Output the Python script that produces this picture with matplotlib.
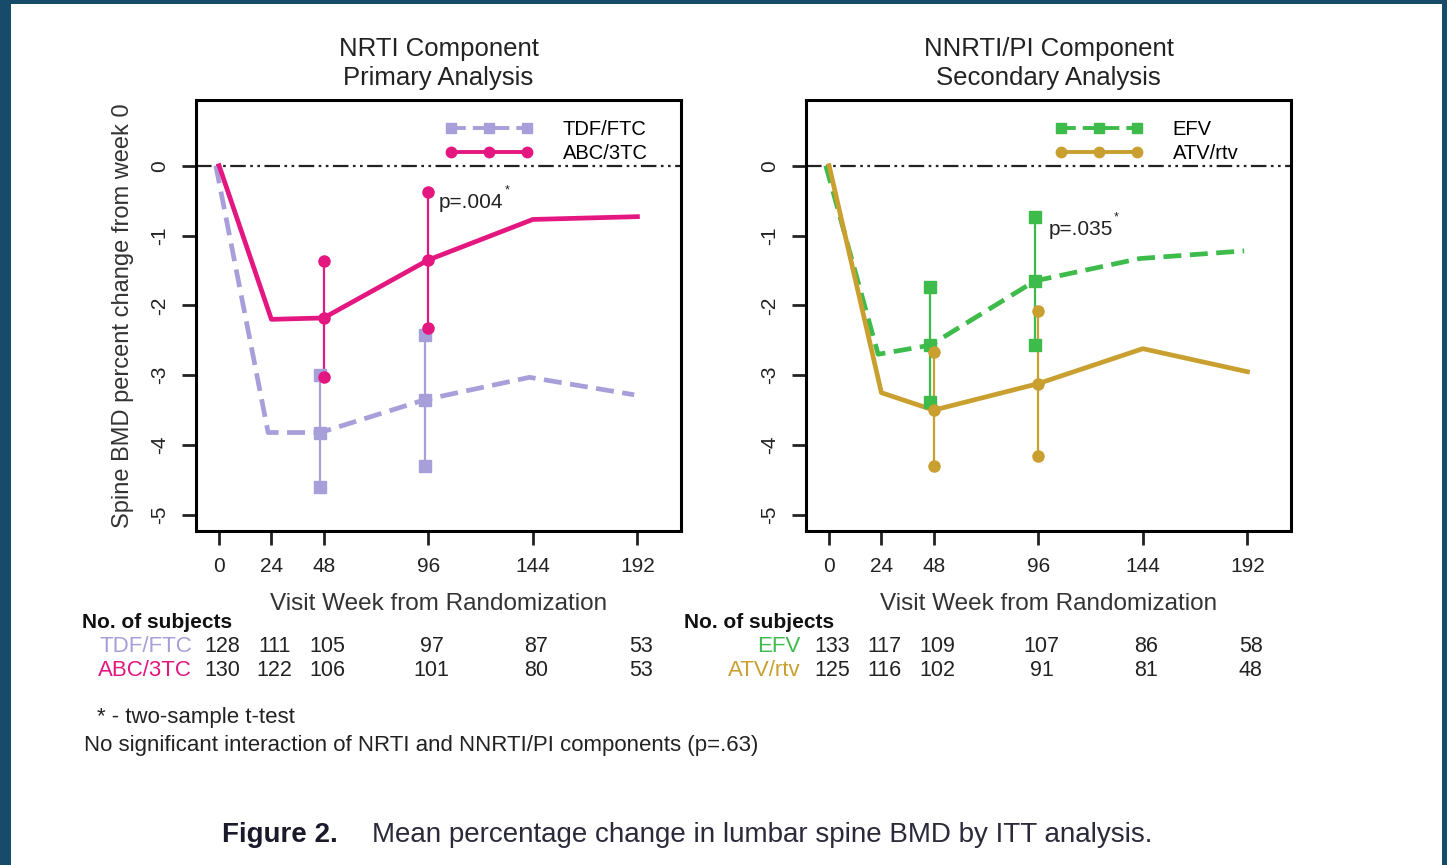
import matplotlib.pyplot as plt
import matplotlib.transforms as mtransforms
from matplotlib.patches import Rectangle
from matplotlib.lines import Line2D

plt.rcParams['font.family'] = ['Liberation Sans', 'DejaVu Sans']

# data
weeks = [0, 24, 48, 96, 144, 192]
ci_weeks = [48, 96]

tdf_mean = [0, -3.82, -3.82, -3.35, -3.03, -3.28]
abc_mean = [0, -2.20, -2.18, -1.35, -0.77, -0.73]
efv_mean = [0, -2.70, -2.57, -1.65, -1.33, -1.22]
atv_mean = [0, -3.25, -3.50, -3.12, -2.62, -2.95]

tdf_lo = [-4.60, -4.30]
tdf_hi = [-3.00, -2.42]
abc_lo = [-3.02, -2.32]
abc_hi = [-1.37, -0.37]
efv_lo = [-3.38, -2.57]
efv_hi = [-1.73, -0.74]
atv_lo = [-4.30, -4.15]
atv_hi = [-2.67, -2.08]

tdf_n = [128, 111, 105, 97, 87, 53]
abc_n = [130, 122, 106, 101, 80, 53]
efv_n = [133, 117, 109, 107, 86, 58]
atv_n = [125, 116, 102, 91, 81, 48]

W, H = 1447, 865
fig = plt.figure(figsize=(W / 100, H / 100), dpi=100)
fig.patch.set_facecolor('#164b69')
fig.add_artist(Rectangle((11 / W, 0), (1442 - 11) / W, 1 - 4 / H,
                         transform=fig.transFigure, facecolor='white',
                         edgecolor='none', zorder=-5))


def fx(x):
    return x / W


def fy(y):
    return 1 - y / H


def draw_panel(left, title, series, ptext, pxy):
    ax = fig.add_axes([fx(left), fy(531), 485 / W, 431 / H])
    ax.set_xlim(-10.6, 212)
    ax.set_ylim(-5.23, 0.94)
    ax.axhline(0, color='#222222', lw=1.6, ls=(0, (7, 2, 1.2, 2, 1.2, 2)), zorder=1)

    handles = []
    for name, mean, lo, hi, color, ls, mk, dodge in series:
        xs = [w + dodge for w in weeks]
        ax.plot(xs, mean, color=color, lw=3.4, ls=ls, zorder=3)
        for i, w in enumerate(ci_weeks):
            x = w + dodge
            m = mean[weeks.index(w)]
            ax.plot([x, x], [lo[i], hi[i]], color=color, lw=1.6, zorder=3)
            ax.plot([x, x, x], [lo[i], m, hi[i]], ls='none', marker=mk,
                    ms=8, color=color, zorder=4)
        handles.append(Line2D([0], [0], color=color, lw=2.8, ls=ls,
                              marker=mk, ms=7.5))

    ax.legend(handles, [s[0] for s in series], loc='upper left',
              bbox_to_anchor=(0.513, 0.953), frameon=False, numpoints=3,
              handlelength=4.4, handletextpad=1.45, labelspacing=0.22,
              borderpad=0, borderaxespad=0, fontsize=14.5)

    t = ax.text(pxy[0], pxy[1], ptext, fontsize=15, va='center', ha='left',
                color='#222222')
    ax.annotate('*', xy=(1, 1), xycoords=t, xytext=(0.5, 2),
                textcoords='offset points', fontsize=9, ha='left', va='center',
                color='#222222')

    ax.set_xticks(weeks)
    ax.set_yticks([0, -1, -2, -3, -4, -5])
    ax.set_yticklabels(['0', '-1', '-2', '-3', '-4', '-5'], rotation=90, va='center')
    ax.tick_params(direction='out', length=10, width=2, labelsize=15,
                   pad=9, colors='#222222')
    for sp in ax.spines.values():
        sp.set_linewidth(2.2)
    ax.set_xlabel('Visit Week from Randomization', fontsize=17.5, color='#333333')
    ax.xaxis.set_label_coords(0.5, -0.143)

    cx = left + 242.5
    fig.text(fx(cx), fy(49), title[0], fontsize=18.5, ha='center', va='center', color='#222222')
    fig.text(fx(cx), fy(78), title[1], fontsize=18.5, ha='center', va='center', color='#222222')
    return ax


ax1 = draw_panel(196, ('NRTI Component', 'Primary Analysis'), [
    ('TDF/FTC', tdf_mean, tdf_lo, tdf_hi, '#a79fd9', (0, (3.8, 1.8)), 's', -1.5),
    ('ABC/3TC', abc_mean, abc_lo, abc_hi, '#e3177f', '-', 'o', 0.0),
], 'p=.004', (101, -0.53))

ax2 = draw_panel(806, ('NNRTI/PI Component', 'Secondary Analysis'), [
    ('EFV', efv_mean, efv_lo, efv_hi, '#3dbb4b', (0, (3.8, 1.8)), 's', -1.5),
    ('ATV/rtv', atv_mean, atv_lo, atv_hi, '#c9a02f', '-', 'o', 0.0),
], 'p=.035', (101, -0.91))

ax1.set_ylabel('Spine BMD percent change from week 0', fontsize=17, color='#333333')
ax1.yaxis.set_label_coords(-0.128, 0.5)

# numbers at risk
tables = [
    (ax1, 82, 192, [('TDF/FTC', tdf_n, '#a79fd9'), ('ABC/3TC', abc_n, '#e3177f')]),
    (ax2, 684, 801, [('EFV', efv_n, '#3dbb4b'), ('ATV/rtv', atv_n, '#c9a02f')]),
]
for ax, hx, lx, rows in tables:
    fig.text(fx(hx), fy(622), 'No. of subjects', fontsize=15, fontweight='bold',
             ha='left', va='center', color='#111111')
    trans = mtransforms.blended_transform_factory(ax.transData, fig.transFigure)
    for r, (name, counts, color) in enumerate(rows):
        y = fy(647 + 24 * r)
        fig.text(fx(lx), y, name, fontsize=16, ha='right', va='center', color=color)
        for w, n in zip(weeks, counts):
            ax.text(w + 1.5, y, str(n), transform=trans, fontsize=15.5,
                    ha='center', va='center', color='#222222', clip_on=False)

fig.text(fx(97), fy(717), '* - two-sample t-test', fontsize=16, ha='left',
         va='center', color='#222222')
fig.text(fx(84), fy(746), 'No significant interaction of NRTI and NNRTI/PI components (p=.63)',
         fontsize=16, ha='left', va='center', color='#222222')

narrow = ['Liberation Sans Narrow', 'Liberation Sans', 'DejaVu Sans']
fig.text(fx(222), fy(835), 'Figure 2.', fontsize=20, fontweight='bold',
         family=narrow, ha='left', va='center', color='#1a1a2a')
fig.text(fx(372), fy(835), 'Mean percentage change in lumbar spine BMD by ITT analysis.',
         fontsize=20, family=narrow, ha='left', va='center', color='#2a2a3a')

fig.savefig('out.png', dpi=100, facecolor=fig.get_facecolor())
